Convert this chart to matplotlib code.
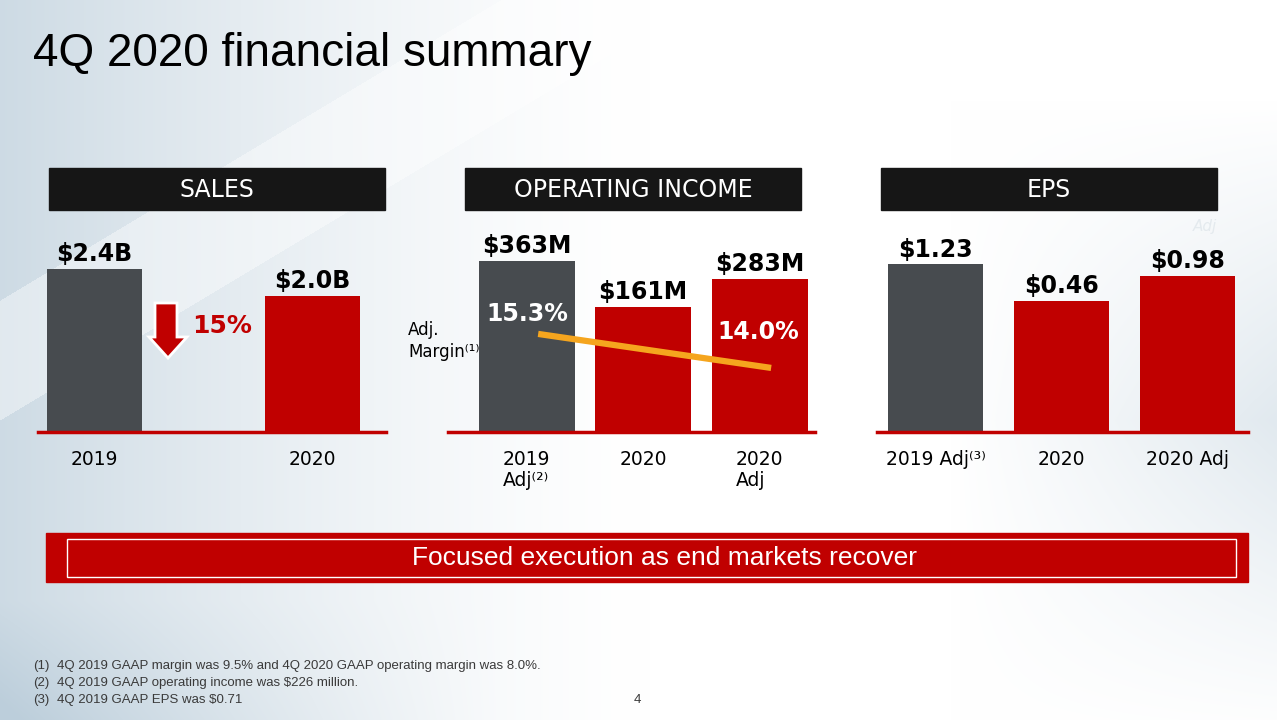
import numpy as np
import matplotlib
matplotlib.use('Agg')
import matplotlib.pyplot as plt
from matplotlib.patches import Rectangle, Polygon

W, H = 1277, 720

# data
sales_labels = ['2019', '2020']
sales_values = [2.4, 2.0]
sales_text = ['$2.4B', '$2.0B']

op_labels = ['2019\nAdj\u207d\u00b2\u207e', '2020', '2020\nAdj']
op_values = [363, 161, 283]
op_text = ['$363M', '$161M', '$283M']
margin_values = [15.3, 14.0]
margin_text = ['15.3%', '14.0%']

eps_labels = ['2019 Adj\u207d\u00b3\u207e', '2020', '2020 Adj']
eps_values = [1.23, 0.46, 0.98]
eps_text = ['$1.23', '$0.46', '$0.98']

footnotes = ['4Q 2019 GAAP margin was 9.5% and 4Q 2020 GAAP operating margin was 8.0%.',
             '4Q 2019 GAAP operating income was $226 million.',
             '4Q 2019 GAAP EPS was $0.71']

GRAY = '#474b4f'
RED = '#c00000'
ORANGE = '#f5a51e'
narrow = ['Liberation Sans', 'DejaVu Sans']


def fx(x):
    return x / W


def fy(y):
    return 1 - y / H


fig = plt.figure(figsize=(W / 100, H / 100), dpi=100)

# background + decorations in pixel coords
deco = fig.add_axes([0, 0, 1, 1])
deco.set_xlim(0, W)
deco.set_ylim(H, 0)
deco.axis('off')

yy, xx = np.mgrid[0:H, 0:W].astype(float)
t = np.clip(1 - xx / 650, 0, 1) ** 1.4 * 0.75
t += np.clip((xx - 950) / 327, 0, 1) * np.clip(1 - np.abs(yy - 420) / 320, 0, 1) * 0.45
t += np.clip((yy - 600) / 120, 0, 1) * np.clip(1 - xx / 500, 0, 1) * 0.3
band = ((xx * 0.6 + yy) > 300) & ((xx * 0.6 + yy) < 420)
t = np.where(band, t * 0.6, t)
t = np.clip(t, 0, 1)[..., None]
base = np.array([0.74, 0.81, 0.86])
bg = (1 - t) * np.ones(3) + t * base
deco.imshow(bg, extent=(0, W, H, 0), aspect='auto', zorder=0)

# section headers
for x0, title in [(49, 'SALES'), (465, 'OPERATING INCOME'), (881, 'EPS')]:
    deco.add_patch(Rectangle((x0, 168), 336, 42, color='#161616', zorder=2))
    deco.text(x0 + 168, 190, title, color='white', fontsize=17, ha='center', va='center', zorder=3)

# banner
deco.add_patch(Rectangle((46, 533), 1202, 49, color=RED, zorder=2))
deco.add_patch(Rectangle((67, 539), 1169, 38, fill=False, edgecolor='white', lw=1, zorder=3))
deco.text(665, 558, 'Focused execution as end markets recover', color='white', fontsize=19,
          family=narrow, ha='center', va='center', zorder=4)

# down arrow
arrow = [(155, 303), (177, 303), (177, 337), (187, 337), (168, 358), (149, 337), (155, 337)]
deco.add_patch(Polygon(arrow, closed=True, facecolor=RED, edgecolor='white', lw=2, zorder=3))
deco.text(192, 326, '15%', color=RED, fontsize=18, fontweight='bold', ha='left', va='center', zorder=3)

# faint watermark
deco.text(1205, 226, 'Adj', color='#e4eaee', fontsize=11, style='italic', ha='center', va='center', zorder=1)

fig.text(fx(33), fy(66), '4Q 2020 financial summary', fontsize=33, family=narrow, va='baseline')


def bar_panel(x_left, x_right, first_center, spacing, width_px, values, floor, ymax, labels, texts):
    ax = fig.add_axes([fx(x_left), fy(432), fx(x_right - x_left), (432 - 160) / H])
    ax.patch.set_alpha(0)
    n = len(values)
    pos = np.arange(n)
    colors = [GRAY] + [RED] * (n - 1)
    ax.bar(pos, np.array(values) - floor, bottom=floor, width=width_px / spacing, color=colors, zorder=2)
    ax.set_xlim((x_left - first_center) / spacing, (x_right - first_center) / spacing)
    ax.set_ylim(floor, ymax)
    for p, v, s in zip(pos, values, texts):
        ax.annotate(s, (p, v), xytext=(0, 2), textcoords='offset points', ha='center', va='bottom',
                    fontsize=17, fontweight='bold', color='black')
    for side in ['top', 'left', 'right']:
        ax.spines[side].set_visible(False)
    ax.spines['bottom'].set_color(RED)
    ax.spines['bottom'].set_linewidth(2.5)
    ax.set_yticks([])
    ax.set_xticks(pos)
    ax.set_xticklabels(labels, fontsize=13.5, multialignment='left', linespacing=1.1)
    ax.tick_params(axis='x', length=0, pad=13)
    return ax


bar_panel(38, 386, 94.5, 218, 95, sales_values, 0, 4.006, sales_labels, sales_text)
op_ax = bar_panel(448, 815, 526.5, 116.5, 96, op_values, -388, 806.6, op_labels, op_text)
bar_panel(877, 1248, 935.5, 126, 95, eps_values, -2.334, 3.447, eps_labels, eps_text)

# adjusted margin line
m_ax = op_ax.twinx()
m_ax.set_ylim(11.55, 21.95)
m_ax.axis('off')
m_x = np.array([0, 2]) + 0.1
m_ax.plot(m_x, margin_values, color=ORANGE, lw=4.5, solid_capstyle='butt', zorder=3)
for x, v, s, off in zip(m_x, margin_values, margin_text, [(-8, 14), (-9, 26)]):
    m_ax.annotate(s, (x, v), xytext=off, textcoords='offset points', ha='center', va='center',
                  fontsize=17, fontweight='bold', color='white')

fig.text(fx(408), fy(341), 'Adj.\nMargin\u207d\u00b9\u207e', fontsize=12, va='center', ha='left', linespacing=1.25)

# footnotes
for i, note in enumerate(footnotes):
    y = fy(666 + i * 17)
    fig.text(fx(33), y, '(%d)' % (i + 1), fontsize=9.5, family=narrow, color='#3a3a3a', va='center')
    fig.text(fx(57), y, note, fontsize=9.5, family=narrow, color='#3a3a3a', va='center')
fig.text(fx(637), fy(700), '4', fontsize=9.5, family=narrow, color='#3a3a3a', ha='center', va='center')

fig.savefig('out.png', dpi=100)
